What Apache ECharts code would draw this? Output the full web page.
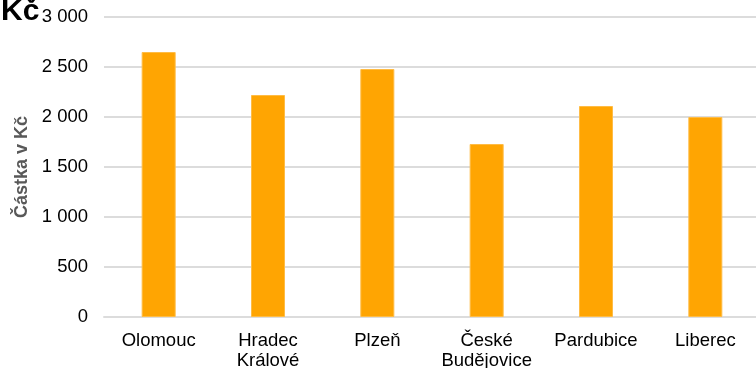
<!DOCTYPE html>
<html><head><meta charset="utf-8">
<script src="https://cdn.jsdelivr.net/npm/echarts@6/dist/echarts.min.js"></script>
<style>html,body{margin:0;padding:0;background:#fff}#c{width:756px;height:368px}</style>
</head><body><div id="c"></div>
<script>
const categories = ['Olomouc', 'Hradec\nKrálové', 'Plzeň', 'České\nBudějovice', 'Pardubice', 'Liberec'];
const values = [2650, 2220, 2480, 1730, 2110, 2000];
const yTicks = { min: 0, max: 3000, interval: 500 };
const titleText = 'Kč';
const yName = 'Částka v Kč';

const font = "'Liberation Sans', Arial, sans-serif";
const fmt = v => String(v).replace(/\B(?=(\d{3})+(?!\d))/g, ' ');
const gridColor = '#dcdcdc';
const chart = echarts.init(document.getElementById('c'), null, { renderer: 'canvas' });
chart.setOption({
  animation: false,
  title: { text: titleText, left: -4, top: -8, textStyle: { fontFamily: font, fontSize: 30, fontWeight: 'bold', color: '#000' } },
  grid: { left: 104, right: -4, top: 17, bottom: 51, containLabel: false, outerBoundsMode: 'none' },
  xAxis: {
    type: 'category', data: categories,
    axisLine: { lineStyle: { color: gridColor, width: 2 } }, axisTick: { show: false },
    axisLabel: { fontFamily: font, fontSize: 18.5, color: '#000', lineHeight: 20, margin: 14, interval: 0 }
  },
  yAxis: {
    type: 'value', min: yTicks.min, max: yTicks.max, interval: yTicks.interval,
    name: yName, nameLocation: 'middle', nameGap: 66,
    nameTextStyle: { fontFamily: font, fontSize: 18, fontWeight: 'bold', color: '#595959' },
    axisLine: { show: false }, axisTick: { show: false },
    axisLabel: { fontFamily: font, fontSize: 18.5, color: '#000', margin: 16, formatter: fmt },
    splitLine: { lineStyle: { color: gridColor, width: 2 } }
  },
  series: [{
    type: 'bar', data: values, barWidth: 34,
    itemStyle: { color: '#FFA502', borderColor: '#FFBC45', borderWidth: 1 }
  }]
});
</script></body></html>
